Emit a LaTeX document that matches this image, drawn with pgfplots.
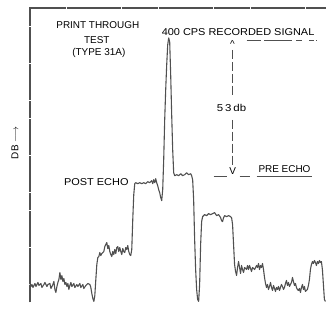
\documentclass[border=0pt]{standalone}
\usepackage{pgfplots}
\pgfplotsset{compat=1.18}
\usepackage{fontspec}
\setmainfont{Liberation Sans}
\definecolor{ink}{RGB}{80,80,80}
\begin{document}
\begin{tikzpicture}
\begin{axis}[
  width=297bp, height=295bp, scale only axis,
  xmin=30, xmax=327, ymin=8, ymax=303, y dir=reverse,
  axis lines=none,
  clip=false,
  every node/.style={font=\fontsize{11}{13}\selectfont, text=ink},
]
% trace
\addplot[ink, line width=1.1pt, line join=round] coordinates {
(30,284)(31,287)(32,285)(33,288)(35,284)(36,287)(38,283)(39,286)(41,284)(42,288)(44,285)(45,283)(47,287)(48,285)(50,284)(51,289)(53,285)(54,282)(55,290)(56,293)(57,287)(58,283)(59,280)(60,273)(61,280)(62,276)(63,282)(64,279)(65,285)(66,283)(67,287)(68,284)(69,290)(70,286)(71,283)(72,287)(74,284)(75,288)(77,285)(78,287)(80,284)(81,288)(83,285)(84,289)(86,286)(88,284)(90,285)(91,288)(92,294)(93,299)(94,302)(95,296)(96,280)(97,265)(98,258)(99,257)(100,253)(101,256)(102,254)(104,252)(105,247)(106,245)(107,243)(108,249)(109,246)(110,252)(111,255)(112,257)(113,252)(114,255)(115,250)(116,254)(117,248)(118,247)(119,252)(120,248)(121,252)(122,255)(123,249)(124,252)(125,253)(126,248)(127,250)(128,246)(129,252)(130,255)(131,256)(132,250)(133,220)(134,195)(135,184)(136,183)(138,184)(140,183)(142,184)(144,183)(146,184)(148,182)(150,183)(152,181)(153,184)(154,180)(155,183)(156,179)(157,183)(158,186)(159,190)(160,193)(161,198)(162,201)(163,190)(164,160)(165,120)(166,90)(167,65)(168,45)(169,38)(170,42)(171,75)(172,115)(173,150)(174,173)(175,176)(177,175)(179,176)(181,174)(183,176)(185,175)(187,173)(189,175)(191,174)(192,176)(193,180)(194,200)(195,240)(196,270)(197,290)(198,300)(199,302)(200,285)(201,245)(202,222)(203,217)(205,215)(207,216)(209,214)(211,215)(213,214)(215,213)(217,216)(219,215)(221,218)(222,221)(223,222)(224,218)(225,216)(227,217)(229,216)(231,217)(232,218)(233,225)(234,245)(235,265)(236,272)(237,276)(238,268)(239,262)(240,268)(241,274)(242,266)(243,270)(244,273)(245,268)(247,270)(248,266)(249,270)(250,266)(251,269)(252,272)(253,268)(255,270)(257,266)(258,268)(259,264)(260,270)(261,266)(262,268)(263,264)(264,270)(265,278)(266,284)(267,288)(268,285)(269,290)(270,287)(271,283)(272,288)(273,291)(274,286)(275,289)(276,292)(277,288)(278,290)(279,287)(280,291)(281,288)(282,285)(283,287)(284,290)(285,288)(286,284)(287,281)(288,286)(289,283)(290,287)(291,285)(292,283)(293,278)(294,282)(295,286)(296,284)(297,288)(298,290)(299,291)(300,289)(301,293)(302,288)(303,285)(304,290)(305,287)(306,292)(307,291)(308,290)(309,286)(310,280)(311,270)(312,265)(313,262)(314,264)(315,261)(316,263)(317,266)(318,262)(319,264)(320,261)(321,263)(322,262)(323,270)(324,285)(325,300)(326,302)
};
% frame (left and top) as a slightly broken line, like the scan
\addplot[ink, line width=1.2pt, dash pattern=on 18pt off 0.5pt] coordinates {(30,303)(30,8)(327,8)};
% full-size bounding box
\path (axis cs:0,0) rectangle (axis cs:327,310);
% annotations
\node at (axis cs:98,25) {PRINT THROUGH};
\node at (axis cs:97,40) {TEST};
\node at (axis cs:99,53) {(TYPE 31A)};
\node[xscale=1.1] at (axis cs:238.5,32) {400 CPS RECORDED SIGNAL};
\draw[ink, line width=0.6pt, dash pattern=on 15pt off 3pt on 28pt off 4pt on 6pt off 7pt on 5pt off 2pt] (axis cs:247,40) -- (axis cs:318,40);
\node at (axis cs:233,44) {\^{}};
\draw[ink, line width=0.6pt, dash pattern=on 9pt off 3pt] (axis cs:233,50) -- (axis cs:233,96);
\node[xscale=1.15] at (axis cs:232,108) {5\,3\,db};
\draw[ink, line width=0.6pt, dash pattern=on 9pt off 3pt] (axis cs:233,120) -- (axis cs:233,166);
\node at (axis cs:233,171) {V};
\draw[ink, line width=0.6pt] (axis cs:214,177) -- (axis cs:227,177);
\draw[ink, line width=0.6pt] (axis cs:240,177) -- (axis cs:250,177);
\node at (axis cs:285,169) {PRE ECHO};
\draw[ink, line width=0.6pt] (axis cs:257,177) -- (axis cs:313,177);
\node[xscale=1.1] at (axis cs:96.5,182) {POST ECHO};
\node[rotate=90] at (axis cs:15,143) {DB $\longrightarrow$};
\end{axis}
\end{tikzpicture}
\end{document}
